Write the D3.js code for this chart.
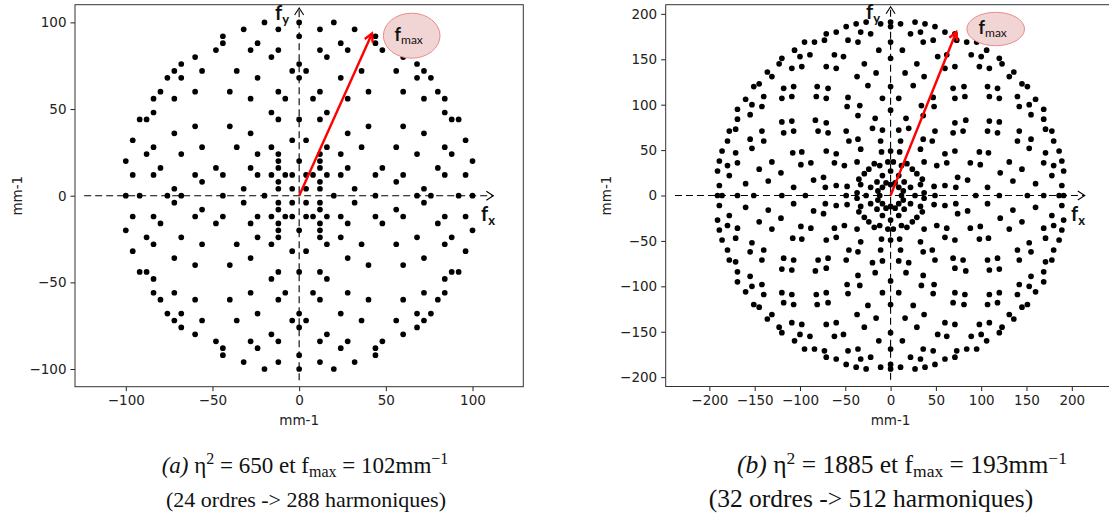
<!DOCTYPE html>
<html><head><meta charset="utf-8">
<script src="https://cdn.jsdelivr.net/npm/d3@7"></script>
<style>body{margin:0;background:#fff}svg{display:block}</style>
</head><body>
<svg id="c" width="1109" height="524"></svg>
<script>
// ---------- DATA ----------
const leftXTicks = [-100,-50,0,50,100];
const leftYTicks = [-100,-50,0,50,100];
const rightXTicks = [-200,-150,-100,-50,0,50,100,150,200];
const rightYTicks = [-200,-150,-100,-50,0,50,100,150,200];
const axisLabel = "mm-1";

// (a) 24 orders -> 288 harmonics, by quadrant
const leftQ1 = [[20,100],[12,96],[32,96],[44,92],[24,88],[44,88],[12,84],[28,84],[48,84],[16,80],[60,80],[68,76],[4,72],[36,72],[56,72],[24,68],[12,60],[40,60],[8,56],[28,56],[16,48],[12,44],[28,36],[4,32],[16,28],[12,24],[12,20],[12,16],[4,12],[8,12],
[4,4],[24,24],[40,40],[60,60],[68,68],[72,72],
[12,4],[32,4],[72,4],[12,8],[56,8],[16,12],[24,12],[44,12],[60,12],[84,12],[96,12],[28,16],[48,16],[80,16],[100,20],[68,24],[88,24],[36,28],[56,28],[84,28],[96,32],[72,36],[60,40],[88,44],[92,44],[84,48],[72,56],[84,56],[80,60],[76,68]];
const leftQ2 = [[-20,100],[-12,96],[-32,96],[-44,92],[-24,88],[-44,88],[-12,84],[-28,84],[-48,84],[-16,80],[-60,80],[-68,76],[-4,72],[-36,72],[-56,72],[-24,68],[-12,60],[-40,60],[-8,56],[-28,56],[-16,48],[-12,44],[-28,36],[-4,32],[-16,28],[-12,24],[-12,20],[-12,16],[-4,12],[-8,12],
[-4,4],[-24,24],[-40,40],[-60,60],[-68,68],[-72,72],
[-12,4],[-32,4],[-72,4],[-12,8],[-56,8],[-16,12],[-24,12],[-44,12],[-60,12],[-84,12],[-96,12],[-28,16],[-48,16],[-80,16],[-100,20],[-68,24],[-88,24],[-36,28],[-56,28],[-84,28],[-96,32],[-72,36],[-60,40],[-88,44],[-92,44],[-84,48],[-72,56],[-84,56],[-80,60],[-76,68]];
const leftQ3 = [[-20,-100],[-12,-96],[-32,-96],[-44,-92],[-24,-88],[-44,-88],[-12,-84],[-28,-84],[-48,-84],[-16,-80],[-60,-80],[-68,-76],[-4,-72],[-36,-72],[-56,-72],[-24,-68],[-12,-60],[-40,-60],[-8,-56],[-28,-56],[-16,-48],[-12,-44],[-28,-36],[-4,-32],[-16,-28],[-12,-24],[-12,-20],[-12,-16],[-4,-12],[-8,-12],
[-4,-4],[-24,-24],[-40,-40],[-60,-60],[-68,-68],[-72,-72],
[-12,-4],[-32,-4],[-72,-4],[-12,-8],[-56,-8],[-16,-12],[-24,-12],[-44,-12],[-60,-12],[-84,-12],[-96,-12],[-28,-16],[-48,-16],[-80,-16],[-100,-20],[-68,-24],[-88,-24],[-36,-28],[-56,-28],[-84,-28],[-96,-32],[-72,-36],[-60,-40],[-88,-44],[-92,-44],[-84,-48],[-72,-56],[-84,-56],[-80,-60],[-76,-68]];
const leftQ4 = [[20,-100],[12,-96],[32,-96],[44,-92],[24,-88],[44,-88],[12,-84],[28,-84],[48,-84],[16,-80],[60,-80],[68,-76],[4,-72],[36,-72],[56,-72],[24,-68],[12,-60],[40,-60],[8,-56],[28,-56],[16,-48],[12,-44],[28,-36],[4,-32],[16,-28],[12,-24],[12,-20],[12,-16],[4,-12],[8,-12],
[4,-4],[24,-24],[40,-40],[60,-60],[68,-68],[72,-72],
[12,-4],[32,-4],[72,-4],[12,-8],[56,-8],[16,-12],[24,-12],[44,-12],[60,-12],[84,-12],[96,-12],[28,-16],[48,-16],[80,-16],[100,-20],[68,-24],[88,-24],[36,-28],[56,-28],[84,-28],[96,-32],[72,-36],[60,-40],[88,-44],[92,-44],[84,-48],[72,-56],[84,-56],[80,-60],[76,-68]];
const leftAxisPts = [[0,20],[0,44],[0,68],[0,76],[0,92],[0,100],[0,-20],[0,-44],[0,-68],[0,-76],[0,-92],[0,-100],
[20,0],[44,0],[68,0],[76,0],[92,0],[100,0],[-20,0],[-44,0],[-68,0],[-76,0],[-92,0],[-100,0]];
const leftFmax = [42, 93.5];

// (b) 32 orders -> 512 harmonics, by quadrant
const rightQ1 = [[71,49],[60,46],[98,48],[62,36],[88,36],[99,34],[51,33],[74,20],[85,17],[35,18],[29,24],[22,9],[33,12],[48,10],[60,11],[72,9],[107,9],[135,16],[160,13],[189,11],[121,25],[145,29],[178,22],[191,27],[131,37],[169,36],[180,33],[189,38],[108,47],[153,52],[171,47],[186,49],[140,60],[155,62],[180,60],[107,71],[118,69],[142,71],[171,73],[178,71],[109,82],[120,81],[155,89],[169,84],[169,95],[142,98],[153,100],[120,107],[160,106],[140,109],[145,123],[151,120],[80,71],[37,3],[14,5],
[49,71],[46,60],[48,98],[36,62],[36,88],[34,99],[33,51],[20,74],[17,85],[18,35],[24,29],[9,22],[12,33],[10,48],[11,60],[9,72],[9,107],[16,135],[13,160],[11,189],[25,121],[29,145],[22,178],[27,191],[37,131],[36,169],[33,180],[38,189],[47,108],[52,153],[47,171],[49,186],[60,140],[62,155],[60,180],[71,107],[69,118],[71,142],[73,171],[71,178],[82,109],[81,120],[89,155],[84,169],[95,169],[98,142],[100,153],[107,120],[106,160],[109,140],[123,145],[120,151],[71,80],[3,37],[5,14],
[9,9],[15,15],[37,37],[69,69],[83,83],[109,109],[118,118],[131,131],[136,136]];
const rightQ2 = [[-71,49],[-60,46],[-98,48],[-62,36],[-88,36],[-99,34],[-51,33],[-74,20],[-85,17],[-35,18],[-29,24],[-22,9],[-33,12],[-48,10],[-60,11],[-72,9],[-107,9],[-135,16],[-160,13],[-189,11],[-121,25],[-145,29],[-178,22],[-191,27],[-131,37],[-169,36],[-180,33],[-189,38],[-108,47],[-153,52],[-171,47],[-186,49],[-140,60],[-155,62],[-180,60],[-107,71],[-118,69],[-142,71],[-171,73],[-178,71],[-109,82],[-120,81],[-155,89],[-169,84],[-169,95],[-142,98],[-153,100],[-120,107],[-160,106],[-140,109],[-145,123],[-151,120],[-80,71],[-37,3],[-14,5],
[-49,71],[-46,60],[-48,98],[-36,62],[-36,88],[-34,99],[-33,51],[-20,74],[-17,85],[-18,35],[-24,29],[-9,22],[-12,33],[-10,48],[-11,60],[-9,72],[-9,107],[-16,135],[-13,160],[-11,189],[-25,121],[-29,145],[-22,178],[-27,191],[-37,131],[-36,169],[-33,180],[-38,189],[-47,108],[-52,153],[-47,171],[-49,186],[-60,140],[-62,155],[-60,180],[-71,107],[-69,118],[-71,142],[-73,171],[-71,178],[-82,109],[-81,120],[-89,155],[-84,169],[-95,169],[-98,142],[-100,153],[-107,120],[-106,160],[-109,140],[-123,145],[-120,151],[-71,80],[-3,37],[-5,14],
[-9,9],[-15,15],[-37,37],[-69,69],[-83,83],[-109,109],[-118,118],[-131,131],[-136,136]];
const rightQ3 = [[-71,-49],[-60,-46],[-98,-48],[-62,-36],[-88,-36],[-99,-34],[-51,-33],[-74,-20],[-85,-17],[-35,-18],[-29,-24],[-22,-9],[-33,-12],[-48,-10],[-60,-11],[-72,-9],[-107,-9],[-135,-16],[-160,-13],[-189,-11],[-121,-25],[-145,-29],[-178,-22],[-191,-27],[-131,-37],[-169,-36],[-180,-33],[-189,-38],[-108,-47],[-153,-52],[-171,-47],[-186,-49],[-140,-60],[-155,-62],[-180,-60],[-107,-71],[-118,-69],[-142,-71],[-171,-73],[-178,-71],[-109,-82],[-120,-81],[-155,-89],[-169,-84],[-169,-95],[-142,-98],[-153,-100],[-120,-107],[-160,-106],[-140,-109],[-145,-123],[-151,-120],[-80,-71],[-37,-3],[-14,-5],
[-49,-71],[-46,-60],[-48,-98],[-36,-62],[-36,-88],[-34,-99],[-33,-51],[-20,-74],[-17,-85],[-18,-35],[-24,-29],[-9,-22],[-12,-33],[-10,-48],[-11,-60],[-9,-72],[-9,-107],[-16,-135],[-13,-160],[-11,-189],[-25,-121],[-29,-145],[-22,-178],[-27,-191],[-37,-131],[-36,-169],[-33,-180],[-38,-189],[-47,-108],[-52,-153],[-47,-171],[-49,-186],[-60,-140],[-62,-155],[-60,-180],[-71,-107],[-69,-118],[-71,-142],[-73,-171],[-71,-178],[-82,-109],[-81,-120],[-89,-155],[-84,-169],[-95,-169],[-98,-142],[-100,-153],[-107,-120],[-106,-160],[-109,-140],[-123,-145],[-120,-151],[-71,-80],[-3,-37],[-5,-14],
[-9,-9],[-15,-15],[-37,-37],[-69,-69],[-83,-83],[-109,-109],[-118,-118],[-131,-131],[-136,-136]];
const rightQ4 = [[71,-49],[60,-46],[98,-48],[62,-36],[88,-36],[99,-34],[51,-33],[74,-20],[85,-17],[35,-18],[29,-24],[22,-9],[33,-12],[48,-10],[60,-11],[72,-9],[107,-9],[135,-16],[160,-13],[189,-11],[121,-25],[145,-29],[178,-22],[191,-27],[131,-37],[169,-36],[180,-33],[189,-38],[108,-47],[153,-52],[171,-47],[186,-49],[140,-60],[155,-62],[180,-60],[107,-71],[118,-69],[142,-71],[171,-73],[178,-71],[109,-82],[120,-81],[155,-89],[169,-84],[169,-95],[142,-98],[153,-100],[120,-107],[160,-106],[140,-109],[145,-123],[151,-120],[80,-71],[37,-3],[14,-5],
[49,-71],[46,-60],[48,-98],[36,-62],[36,-88],[34,-99],[33,-51],[20,-74],[17,-85],[18,-35],[24,-29],[9,-22],[12,-33],[10,-48],[11,-60],[9,-72],[9,-107],[16,-135],[13,-160],[11,-189],[25,-121],[29,-145],[22,-178],[27,-191],[37,-131],[36,-169],[33,-180],[38,-189],[47,-108],[52,-153],[47,-171],[49,-186],[60,-140],[62,-155],[60,-180],[71,-107],[69,-118],[71,-142],[73,-171],[71,-178],[82,-109],[81,-120],[89,-155],[84,-169],[95,-169],[98,-142],[100,-153],[107,-120],[106,-160],[109,-140],[123,-145],[120,-151],[71,-80],[3,-37],[5,-14],
[9,-9],[15,-15],[37,-37],[69,-69],[83,-83],[109,-109],[118,-118],[131,-131],[136,-136]];
const rightAxisPts = [[12,0],[27,0],[49,0],[94,0],[120,0],[151,0],[169,0],[186,0],[191,0],
[-12,0],[-27,0],[-49,0],[-94,0],[-120,0],[-151,0],[-169,0],[-186,0],[-191,0],
[0,12],[0,27],[0,49],[0,94],[0,120],[0,151],[0,169],[0,186],[0,191],
[0,-12],[0,-27],[0,-49],[0,-94],[0,-120],[0,-151],[0,-169],[0,-186],[0,-191]];
const rightFmax = [72.5, 180];

// ---------- DRAWING ----------
const svg = d3.select("#c");
const minus = d => d < 0 ? "\u2212" + Math.abs(d) : String(d);
const TICKFONT = "'DejaVu Sans', sans-serif";

function panel(cfg) {
  const x = d3.scaleLinear().domain(cfg.xd).range(cfg.xr);
  const y = d3.scaleLinear().domain(cfg.yd).range(cfg.yr);
  const g = svg.append("g");

  const xa = g.append("g").attr("transform", `translate(0,${cfg.yr[0]})`)
    .call(d3.axisBottom(x).tickValues(cfg.xt).tickSize(4.5).tickSizeOuter(0).tickPadding(4).tickFormat(minus));
  const ya = g.append("g").attr("transform", `translate(${cfg.xr[0]},0)`)
    .call(d3.axisLeft(y).tickValues(cfg.yt).tickSize(4.5).tickSizeOuter(0).tickPadding(4).tickFormat(minus));
  [xa, ya].forEach(a => {
    a.select(".domain").remove();
    a.selectAll("line").attr("stroke", "#222").attr("stroke-width", 1);
    a.selectAll("text").attr("font-family", TICKFONT).attr("font-size", 13.5).attr("fill", "#222");
  });

  g.append("rect").attr("x", cfg.xr[0]).attr("y", cfg.yr[1])
    .attr("width", cfg.xr[1] - cfg.xr[0]).attr("height", cfg.yr[0] - cfg.yr[1])
    .attr("fill", "none").attr("stroke", "#333").attr("stroke-width", 1);

  g.append("text").attr("x", x(0)).attr("y", 425).attr("text-anchor", "middle")
    .attr("font-family", TICKFONT).attr("font-size", 13.5).attr("fill", "#222").text(axisLabel);
  g.append("text").attr("transform", `translate(${cfg.ylabX},${y(0)}) rotate(-90)`).attr("text-anchor", "middle")
    .attr("font-family", TICKFONT).attr("font-size", 13.5).attr("fill", "#222").text(axisLabel);

  const ax = g.append("g").attr("stroke", "#000").attr("stroke-width", 1.1).attr("fill", "none");
  ax.append("line").attr("x1", x(cfg.hx[0])).attr("x2", x(cfg.hx[1])).attr("y1", y(0)).attr("y2", y(0)).attr("stroke-dasharray", "7,4");
  ax.append("line").attr("x1", x(0)).attr("x2", x(0)).attr("y1", y(cfg.vy[0])).attr("y2", y(cfg.vy[1])).attr("stroke-dasharray", "7,4");
  const hxE = x(cfg.hx[1]), vyE = y(cfg.vy[1]);
  ax.append("path").attr("d", `M${hxE-7},${y(0)-4.5}L${hxE},${y(0)}L${hxE-7},${y(0)+4.5}`);
  ax.append("path").attr("d", `M${x(0)-4.5},${vyE+7}L${x(0)},${vyE}L${x(0)+4.5},${vyE+7}`);

  g.append("g").selectAll("circle").data(cfg.pts).join("circle")
    .attr("cx", d => x(d[0])).attr("cy", d => y(d[1])).attr("r", 2.85).attr("fill", "#000");

  const x0 = x(0), y0 = y(0), x1 = x(cfg.fmax[0]), y1 = y(cfg.fmax[1]);
  const ang = Math.atan2(y1 - y0, x1 - x0), L = 9, spread = 0.5;
  g.append("line").attr("x1", x0).attr("y1", y0).attr("x2", x1).attr("y2", y1)
    .attr("stroke", "#f00").attr("stroke-width", 2.4);
  g.append("path").attr("d",
      `M${x1 - L*Math.cos(ang-spread)},${y1 - L*Math.sin(ang-spread)}L${x1},${y1}L${x1 - L*Math.cos(ang+spread)},${y1 - L*Math.sin(ang+spread)}`)
    .attr("stroke", "#f00").attr("stroke-width", 2.4).attr("fill", "none").attr("stroke-linejoin", "miter");

  g.append("ellipse").attr("cx", cfg.ell[0]).attr("cy", cfg.ell[1]).attr("rx", cfg.ell[2]).attr("ry", cfg.ell[3])
    .attr("fill", "#f1d5d5").attr("stroke", "#ec8a8a").attr("stroke-width", 1);
  const et = g.append("text").attr("x", cfg.ell[0] - 3).attr("y", cfg.ell[1] + 5).attr("text-anchor", "middle")
    .attr("font-family", "Lato, 'Open Sans', sans-serif").attr("font-weight", "bold").attr("fill", "#111");
  et.append("tspan").attr("font-size", 18).text("f");
  et.append("tspan").attr("font-size", 12).attr("dy", 3).attr("font-weight", "normal").text("max");

  const lab = (px, py, sub) => {
    const t = g.append("text").attr("x", px).attr("y", py)
      .attr("font-family", "Lato, 'Open Sans', sans-serif").attr("font-weight", "bold").attr("fill", "#111");
    t.append("tspan").attr("font-size", 20).text("f");
    t.append("tspan").attr("font-size", 13).attr("dy", 4).text(sub);
  };
  lab(cfg.fxPos[0], cfg.fxPos[1], "x");
  lab(cfg.fyPos[0], cfg.fyPos[1], "y");
}

panel({
  xd: [-129.3, 129.3], xr: [75, 523.3], yd: [-110.2, 110.2], yr: [386.7, 4.7],
  xt: leftXTicks, yt: leftYTicks, ylabX: 22,
  hx: [-124, 112], vy: [-106.5, 108.3],
  pts: [...leftQ1, ...leftQ2, ...leftQ3, ...leftQ4, ...leftAxisPts],
  fmax: leftFmax, ell: [411.7, 35.7, 28.3, 22.5],
  fxPos: [481, 221], fyPos: [275, 20]
});
panel({
  xd: [-248.2, 250], xr: [665.7, 1117.1], yd: [-210.3, 210.1], yr: [386.5, 4.7],
  xt: rightXTicks, yt: rightYTicks, ylabX: 611,
  hx: [-238, 214.3], vy: [-203, 207.8],
  pts: [...rightQ1, ...rightQ2, ...rightQ3, ...rightQ4, ...rightAxisPts],
  fmax: rightFmax, ell: [995.7, 29, 28.8, 16.7],
  fxPos: [1071, 221], fyPos: [866, 19]
});

function caption(cx, yy, fs, sfs, parts) {
  const t = svg.append("text").attr("x", cx).attr("y", yy).attr("text-anchor", "middle")
    .attr("font-family", "'Liberation Serif', 'DejaVu Serif', serif").attr("font-size", fs).attr("fill", "#111");
  parts.forEach(p => {
    const s = t.append("tspan").text(p.t);
    if (p.i) s.attr("font-style", "italic");
    if (p.dy) s.attr("dy", p.dy);
    if (p.s) s.attr("font-size", sfs);
  });
}
const line1 = (lab, eta, fm) => [{t:`(${lab})`, i:1},{t:" η"},{t:"2", dy:-9, s:1},{t:` = ${eta} et f`, dy:9},{t:"max", dy:4, s:1},{t:` = ${fm}mm`, dy:-4},{t:"−1", dy:-9, s:1}];
caption(305, 473, 23, 16, line1("a", 650, 102));
caption(306, 507, 22, 16, [{t:"(24 ordres -> 288 harmoniques)"}]);
caption(902, 473, 25.5, 17.5, line1("b", 1885, 193));
caption(871, 507, 25.5, 17.5, [{t:"(32 ordres -> 512 harmoniques)"}]);
</script>
</body></html>
